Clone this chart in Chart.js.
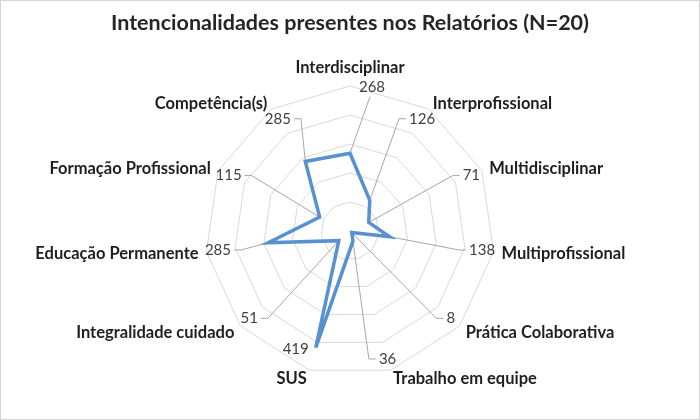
<!DOCTYPE html>
<html>
<head>
<meta charset="utf-8">
<script src="https://cdn.jsdelivr.net/npm/chart.js@4/dist/chart.umd.min.js"></script>
<style>
  body { margin: 0; background: #fff; }
  #wrap { width: 700px; height: 420px; box-sizing: border-box; border: 1px solid #d4d4d4; }
</style>
</head>
<body>
<div id="wrap"><canvas id="radar"></canvas></div>
<script>
// categorias (sentido horário, começando no topo)
const categories = [
  "Interdisciplinar",
  "Interprofissional",
  "Multidisciplinar",
  "Multiprofissional",
  "Prática Colaborativa",
  "Trabalho em equipe",
  "SUS",
  "Integralidade cuidado",
  "Educação Permanente",
  "Formação Profissional",
  "Competência(s)"
];
const counts = [268, 126, 71, 138, 8, 36, 419, 51, 285, 115, 285];
const scaleMax = 500;
const scaleStep = 100;
const chartTitle = "Intencionalidades presentes nos Relatórios (N=20)";

// posição dos rótulos em relação ao anel externo
const valueRadius = 0.92;
const categoryPad = 8;

function sideOf(scale, p) {
  const dx = p.x - scale.xCenter;
  return dx > 1 ? 1 : dx < -1 ? -1 : 0;
}

// nomes das categorias, centrados verticalmente como no Excel
const categoryLabels = {
  id: "categoryLabels",
  afterDraw(chart) {
    const scale = chart.scales.r;
    const ctx = chart.ctx;
    ctx.save();
    ctx.font = "bold 16.5px Lato";
    ctx.fillStyle = "#1f1f1f";
    categories.forEach((name, i) => {
      const p = scale.getPointPosition(i, scale.drawingArea + categoryPad);
      const side = sideOf(scale, p);
      if (side === 0) {
        ctx.textAlign = "center";
        ctx.textBaseline = "bottom";
        ctx.fillText(name, p.x, p.y - 2);
      } else {
        ctx.textAlign = side > 0 ? "left" : "right";
        ctx.textBaseline = "middle";
        ctx.fillText(name, p.x, p.y + 1);
      }
    });
    ctx.restore();
  }
};

// onde fica cada número e onde termina a sua linha de chamada
function valueLayout(chart, i) {
  const scale = chart.scales.r;
  const pt = chart.getDatasetMeta(0).data[i];
  const ctx = chart.ctx;
  const text = String(counts[i]);
  const w = ctx.measureText(text).width;
  const R = scale.drawingArea;
  const ptR = scale.getDistanceFromCenterForValue(counts[i]);

  if (ptR >= R * 0.8) {
    // ponto perto do anel: número ao lado do próprio ponto
    const side = sideOf(scale, pt) || 1;
    return { text, x: pt.x + side * (7 + w / 2), y: pt.y + 2, line: null };
  }
  const c = scale.getPointPosition(i, R * valueRadius);
  const side = sideOf(scale, c);
  if (side === 0) {
    const tx = c.x + 22, ty = c.y - 10;
    return { text, x: tx, y: ty, line: [[pt.x, pt.y], [tx - 2, ty + 9]] };
  }
  const edge = c.x - side * (w / 2 + 3);
  return {
    text, x: c.x, y: c.y,
    line: [[pt.x, pt.y], [edge - side * 7, c.y], [edge, c.y]]
  };
}

const valueLabels = {
  id: "valueLabels",
  beforeDatasetsDraw(chart) {
    const ctx = chart.ctx;
    ctx.save();
    ctx.font = "15px Lato";
    ctx.strokeStyle = "#a6a6a6";
    ctx.lineWidth = 1;
    counts.forEach((v, i) => {
      const lay = valueLayout(chart, i);
      if (!lay.line) return;
      ctx.beginPath();
      lay.line.forEach((p, k) => (k ? ctx.lineTo(p[0], p[1]) : ctx.moveTo(p[0], p[1])));
      ctx.stroke();
    });
    ctx.restore();
  },
  afterDatasetsDraw(chart) {
    const ctx = chart.ctx;
    ctx.save();
    ctx.font = "15px Lato";
    ctx.fillStyle = "#404040";
    ctx.textAlign = "center";
    ctx.textBaseline = "middle";
    counts.forEach((v, i) => {
      const lay = valueLayout(chart, i);
      ctx.fillText(lay.text, lay.x, lay.y);
    });
    ctx.restore();
  }
};

new Chart(document.getElementById("radar"), {
  type: "radar",
  data: {
    labels: categories,
    datasets: [
      {
        label: "Relatórios",
        data: counts,
        borderColor: "#5791cf",
        borderWidth: 3.5,
        pointRadius: 0,
        fill: false,
        tension: 0
      }
    ]
  },
  options: {
    responsive: true,
    maintainAspectRatio: false,
    animation: false,
    layout: { padding: { top: 0, bottom: 42, left: 0, right: 0 } },
    plugins: {
      legend: { display: false },
      tooltip: { enabled: false },
      title: {
        display: true,
        text: chartTitle,
        color: "#262626",
        font: { family: "Lato", size: 21.5, weight: "bold" },
        padding: { top: 9, bottom: 51 }
      }
    },
    scales: {
      r: {
        min: 0,
        max: scaleMax,
        ticks: { stepSize: scaleStep, display: false },
        grid: { color: "#d9d9d9", lineWidth: 1 },
        angleLines: { display: false },
        pointLabels: { display: false }
      }
    }
  },
  plugins: [valueLabels, categoryLabels]
});
</script>
</body>
</html>
